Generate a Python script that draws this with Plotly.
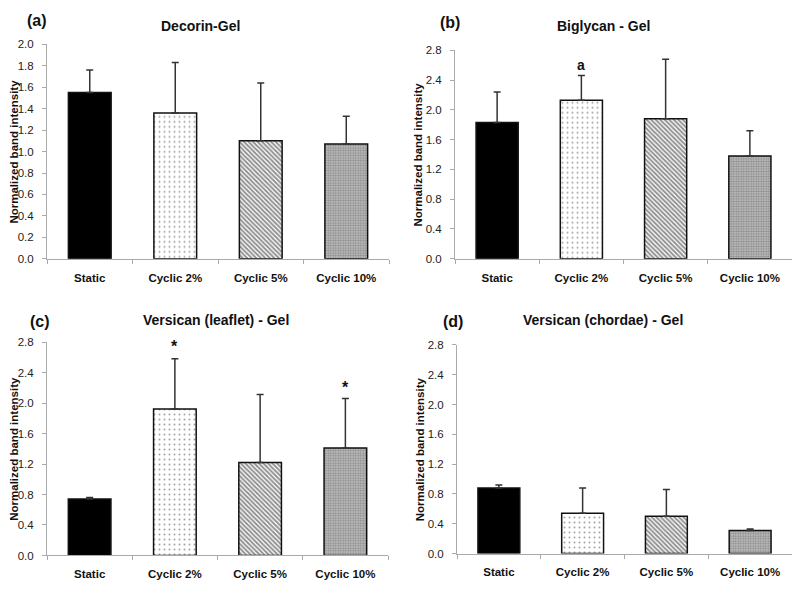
import plotly.graph_objects as go

categories = ["Static", "Cyclic 2%", "Cyclic 5%", "Cyclic 10%"]

decorin_vals = [1.55, 1.36, 1.10, 1.07]
decorin_tops = [1.76, 1.83, 1.64, 1.33]

biglycan_vals = [1.83, 2.13, 1.88, 1.38]
biglycan_tops = [2.24, 2.46, 2.68, 1.72]

vleaf_vals = [0.74, 1.92, 1.22, 1.41]
vleaf_tops = [0.76, 2.58, 2.11, 2.06]

vchord_vals = [0.88, 0.54, 0.50, 0.31]
vchord_tops = [0.92, 0.88, 0.86, 0.33]

panel_titles = ["Decorin-Gel", "Biglycan - Gel", "Versican (leaflet) - Gel", "Versican (chordae) - Gel"]
panel_letters = ["(a)", "(b)", "(c)", "(d)"]
y_title = "Normalized band intensity"

marks_b = [("Cyclic 2%", 2.60, "a")]
marks_c = [("Cyclic 2%", 2.74, "*"), ("Cyclic 10%", 2.20, "*")]

FONT = "Arial, Liberation Sans, sans-serif"
OFF = 8  # page body margin
W, H = 800 - 2 * OFF, 592 - 2 * OFF


def px(x):
    return (x - OFF) / W


def py(y):
    return (H - (y - OFF)) / H


# pixel layout in page coords: (x0, x1, ybottom_px, ytop_px, ymax, dtick, ytitle_x)
panels = [
    (47, 389, 258, 39, 2.0, 0.2, 14),
    (455, 792, 258, 45, 2.8, 0.4, 418),
    (47, 388, 561, 343, 2.8, 0.4, 14),
    (457, 792, 559, 346, 2.8, 0.4, 420),
]
data = [
    (decorin_vals, decorin_tops),
    (biglycan_vals, biglycan_tops),
    (vleaf_vals, vleaf_tops),
    (vchord_vals, vchord_tops),
]

fills = [
    dict(color="black", pattern=dict(shape="")),
    dict(color="white", pattern=dict(shape=".", size=5, solidity=0.12, fgcolor="#444", bgcolor="white", fillmode="overlay")),
    dict(color="white", pattern=dict(shape="\\", size=3.2, solidity=0.6, fgcolor="#222", bgcolor="white", fillmode="overlay")),
    dict(color="white", pattern=dict(shape=".", size=2.5, solidity=0.5, fgcolor="#555", bgcolor="#c4c4c4", fillmode="overlay")),
]

fig = go.Figure()
layout = dict(
    width=W, height=H, margin=dict(l=0, r=0, t=0, b=0),
    paper_bgcolor="white", plot_bgcolor="white", showlegend=False,
    font=dict(family=FONT, color="#111"),
)
annotations = []

for i, ((x0, x1, yb, yt, ymax, dt, ytx), (vals, tops)) in enumerate(zip(panels, data)):
    n = "" if i == 0 else str(i + 1)
    xa, ya = "x" + n, "y" + n
    for j, cat in enumerate(categories):
        f = fills[j]
        fig.add_trace(go.Bar(
            x=[cat], y=[vals[j]], xaxis=xa, yaxis=ya, width=0.5,
            marker=dict(color=f["color"], pattern=f["pattern"], line=dict(color="#111", width=1.5)),
            error_y=dict(type="data", symmetric=False, array=[tops[j] - vals[j]], arrayminus=[0],
                         color="#333", thickness=1.5, width=3.5),
            hoverinfo="x+y",
        ))
    layout["xaxis" + n] = dict(
        domain=[px(x0), px(x1)], anchor=ya, type="category",
        categoryorder="array", categoryarray=categories, range=[-0.5, 3.5],
        showline=True, linecolor="#aaa", linewidth=1, ticks="outside", tickson="boundaries",
        ticklen=4, tickcolor="#aaa", showgrid=False, zeroline=False,
        tickfont=dict(family=FONT, size=11.5, color="#111", weight="bold"), ticklabelstandoff=8,
    )
    layout["yaxis" + n] = dict(
        domain=[py(yb), py(yt)], anchor=xa, range=[0, ymax], dtick=dt, tick0=0,
        tickformat=".1f", showline=True, linecolor="#aaa", linewidth=1, ticks="outside",
        ticklen=4, tickcolor="#aaa", showgrid=False, zeroline=False,
        tickfont=dict(family=FONT, size=11.5, color="#222"), ticklabelstandoff=6,
    )
    # y-axis title
    annotations.append(dict(
        text="<b>%s</b>" % y_title, xref="paper", yref="paper",
        x=px(ytx), y=py((yb + yt) / 2), textangle=-90, showarrow=False,
        font=dict(family=FONT, size=11.5, color="#111"), xanchor="center", yanchor="middle",
    ))

# titles and letters (page pixel coords)
title_pos = [(200, 20), (603, 20), (216, 321), (603, 321)]
letter_pos = [(37, 15), (450, 17), (40, 322), (453, 322)]
for t, (cx, cy) in zip(panel_titles, title_pos):
    annotations.append(dict(text="<b>%s</b>" % t, xref="paper", yref="paper", x=px(cx), y=py(cy),
                            showarrow=False, xanchor="center", yanchor="middle",
                            font=dict(family=FONT, size=14, color="#111")))
for t, (cx, cy) in zip(panel_letters, letter_pos):
    annotations.append(dict(text="<b>%s</b>" % t, xref="paper", yref="paper", x=px(cx), y=py(cy),
                            showarrow=False, xanchor="center", yanchor="middle",
                            font=dict(family=FONT, size=16, color="#111")))

for cat, yv, txt in marks_b:
    annotations.append(dict(text="<b>%s</b>" % txt, xref="x2", yref="y2", x=cat, y=yv, showarrow=False,
                            yanchor="middle", font=dict(family=FONT, size=14, color="#111")))
for cat, yv, txt in marks_c:
    annotations.append(dict(text="<b>%s</b>" % txt, xref="x3", yref="y3", x=cat, y=yv, showarrow=False,
                            yanchor="middle", font=dict(family=FONT, size=16, color="#111")))

layout["annotations"] = annotations
fig.update_layout(**layout)
fig.write_html("out.html")
